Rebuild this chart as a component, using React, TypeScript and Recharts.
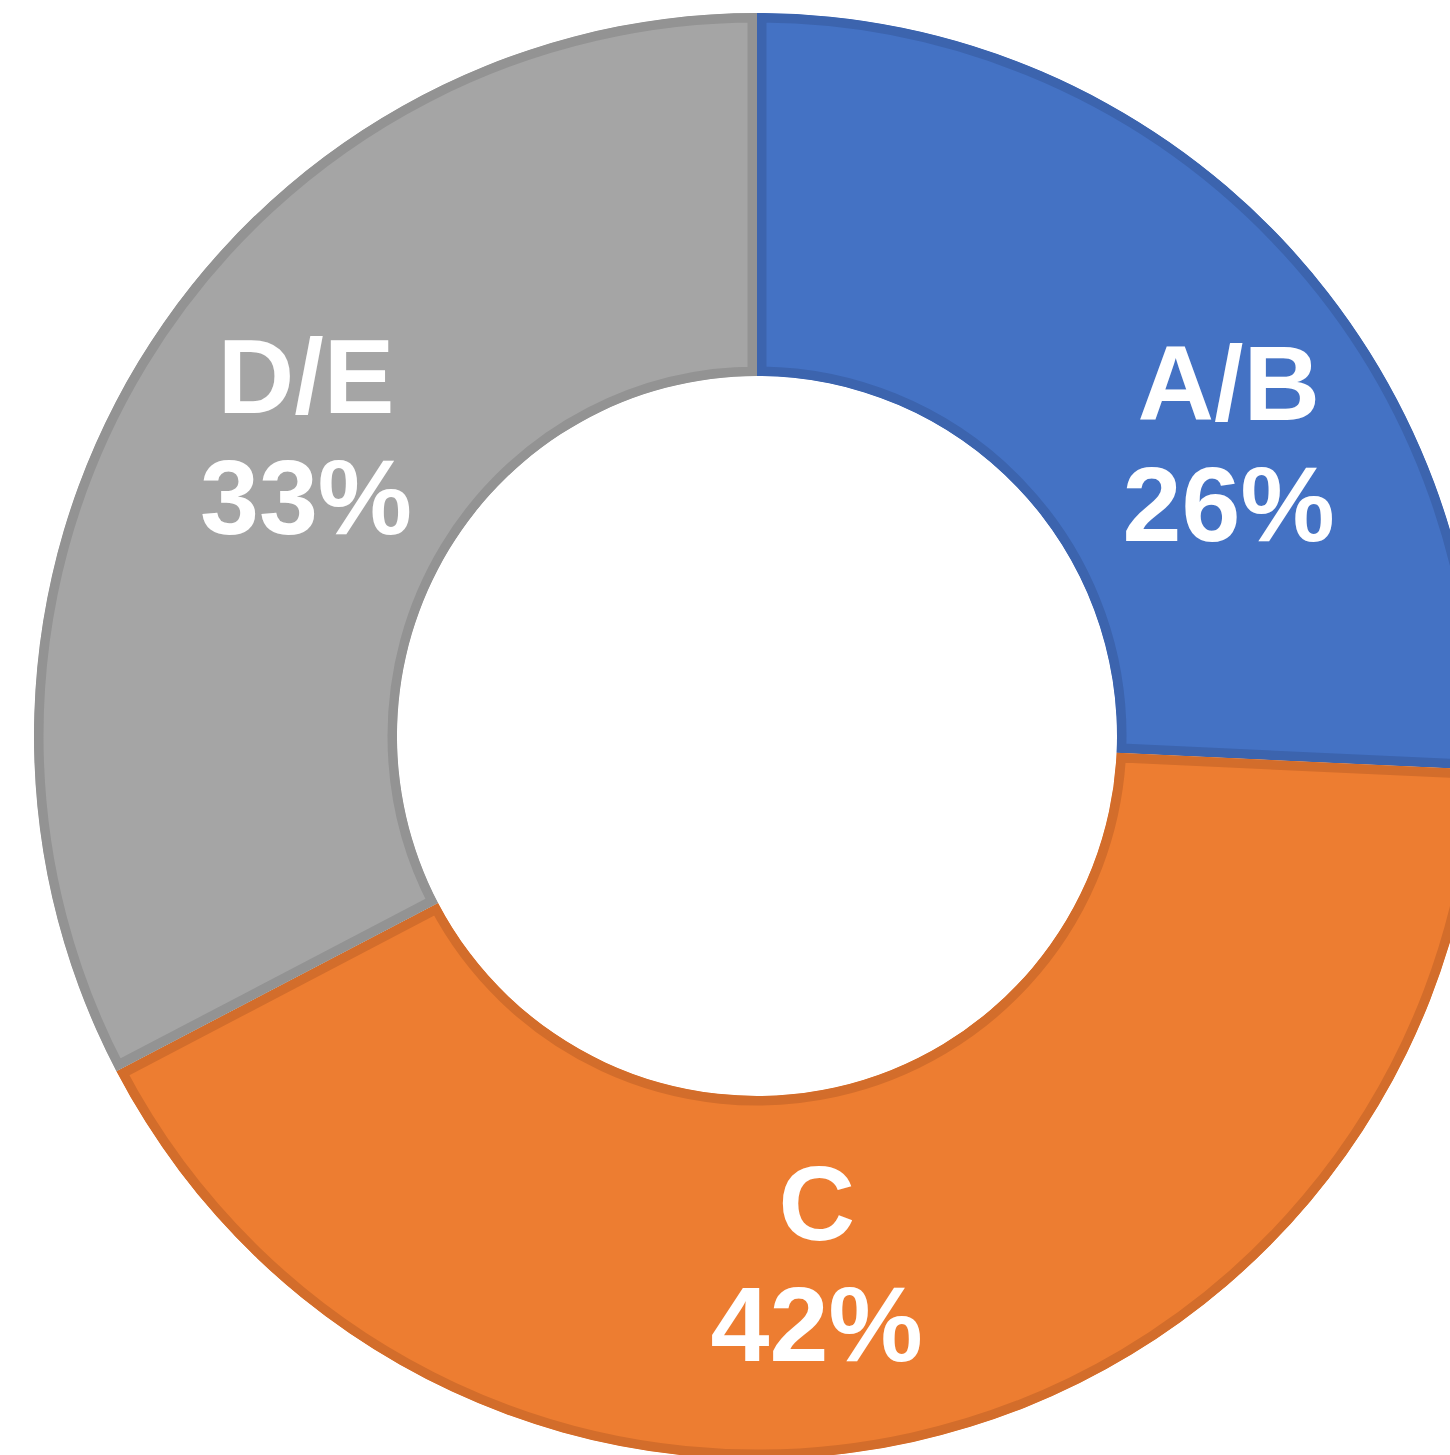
import { PieChart, Pie, Cell, Sector } from 'recharts';

const categories = ['A/B', 'C', 'D/E'];
const shares = [26, 42, 33];

const FILLS = ['#4472C4', '#ED7D31', '#A5A5A5'];
const BORDERS = ['#3C64AE', '#D36D2B', '#939393'];

// Excel nudges the labels a bit away from the exact mid angle
const LABEL_SHIFT = [-11.7, -6, -2.5];
const LABEL_RADIUS = [556, 529, 542];

const data = categories.map((name, i) => ({ name, value: shares[i] }));

const RAD = Math.PI / 180;

// Sector with its border drawn inside the shape (like Excel), via a clip of itself
function InsetSector(props: any) {
  const { cx, cy, innerRadius, outerRadius, startAngle, endAngle, fill, stroke, index } = props;
  const id = `donut-clip-${index}`;
  const geom = { cx, cy, innerRadius, outerRadius, startAngle, endAngle };
  return (
    <g>
      <defs>
        <clipPath id={id}>
          <Sector {...geom} />
        </clipPath>
      </defs>
      <Sector {...geom} fill={fill} stroke={stroke} strokeWidth={19} clipPath={`url(#${id})`} />
    </g>
  );
}

function renderLabel(props: any) {
  const { cx, cy, midAngle, index, name, value } = props;
  const ang = (midAngle + LABEL_SHIFT[index]) * RAD;
  const r = LABEL_RADIUS[index];
  const x = cx + r * Math.cos(-ang);
  const y = cy + r * Math.sin(-ang);
  return (
    <text
      x={x}
      y={y}
      textAnchor="middle"
      fill="#FFFFFF"
      fontFamily="'Liberation Sans', Arial, sans-serif"
      fontWeight="bold"
      fontSize={106}
    >
      <tspan x={x} y={y - 22}>{name}</tspan>
      <tspan x={x} y={y + 99}>{`${value}%`}</tspan>
    </text>
  );
}

export default function App() {
  return (
    <div style={{ position: 'fixed', top: 0, left: 0, width: 1450, height: 1455, overflow: 'hidden', background: '#fff' }}>
      <PieChart width={1450} height={1455} margin={{ top: 0, right: 0, bottom: 0, left: 0 }}>
        <Pie
          data={data}
          dataKey="value"
          nameKey="name"
          cx={757}
          cy={736}
          innerRadius={360}
          outerRadius={723}
          startAngle={90}
          endAngle={-270}
          paddingAngle={0}
          shape={InsetSector}
          label={renderLabel}
          labelLine={false}
          isAnimationActive={false}
        >
          {data.map((entry, index) => (
            <Cell key={`cell-${index}`} fill={FILLS[index]} stroke={BORDERS[index]} />
          ))}
        </Pie>
      </PieChart>
    </div>
  );
}
